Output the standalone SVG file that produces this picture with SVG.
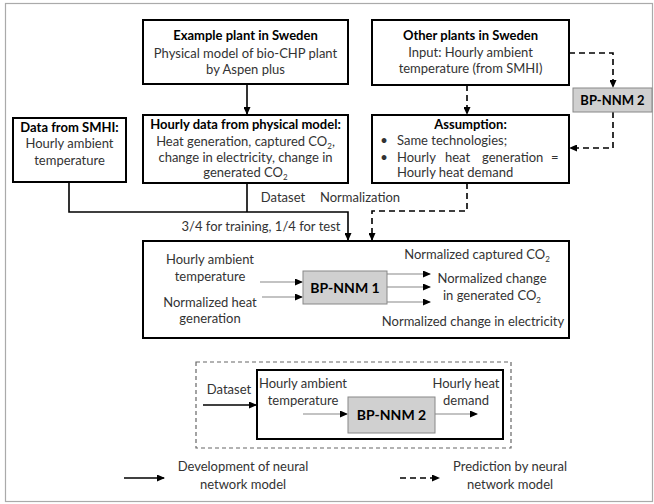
<svg xmlns="http://www.w3.org/2000/svg" width="654" height="504" viewBox="0 0 654 504">
<defs>
<marker id="ah" markerWidth="8" markerHeight="7" refX="7" refY="3.5" orient="auto" markerUnits="userSpaceOnUse">
<path d="M0,0 L8,3.5 L0,7 Z" fill="#000"/>
</marker>
<style>
text{font-family:Lato,"Liberation Sans",sans-serif;font-size:13px;fill:#333;text-anchor:middle}
.b{font-weight:bold;fill:#000}
.st{text-anchor:start}
.box{fill:#fff;stroke:#000;stroke-width:2}
.gbox{fill:#d0d0d0;stroke:#888;stroke-width:1}
.c{fill:none;stroke:#000;stroke-width:1.6}
.d{fill:none;stroke:#000;stroke-width:1.6;stroke-dasharray:6,4}
.g{fill:none;stroke:#888;stroke-width:1.2}
.sub{font-size:8px;baseline-shift:-3px}
</style>
</defs>
<rect x="5.5" y="3.5" width="647" height="498" fill="#fff" stroke="#aaa" stroke-width="1.2"/>

<g id="connectors">
<line class="c" x1="247" y1="84" x2="247" y2="114" marker-end="url(#ah)"/>
<line class="d" x1="467" y1="85" x2="467" y2="114" marker-end="url(#ah)"/>
<path class="d" d="M569,53 H613 V87" marker-end="url(#ah)"/>
<path class="d" d="M613,112 V148 H570" marker-end="url(#ah)"/>
<path class="c" d="M69,182 V212 H348 V240" marker-end="url(#ah)"/>
<line class="c" x1="247" y1="183" x2="247" y2="212"/>
<path class="d" d="M467,183 V211 H372 V240" marker-end="url(#ah)"/>
<text x="283" y="202">Dataset</text>
<text x="360" y="202">Normalization</text>
<text x="261" y="231">3/4 for training, 1/4 for test</text>
</g>

<g id="example-plant">
<rect class="box" x="143" y="20" width="205" height="64"/>
<text class="b" x="245.5" y="40">Example plant in Sweden</text>
<text x="245.5" y="58">Physical model of bio-CHP plant</text>
<text x="245.5" y="74">by Aspen plus</text>
</g>

<g id="other-plants">
<rect class="box" x="372" y="20" width="197" height="65"/>
<text class="b" x="470.5" y="40">Other plants in Sweden</text>
<text x="470.5" y="57">Input: Hourly ambient</text>
<text x="470.5" y="73">temperature (from SMHI)</text>
</g>

<g id="bp-nnm2-top">
<rect class="gbox" x="573" y="88" width="79" height="24"/>
<text class="b" x="612.5" y="105">BP-NNM 2</text>
</g>

<g id="smhi">
<rect class="box" x="13" y="118" width="113" height="64"/>
<text class="b" x="69.5" y="132">Data from SMHI:</text>
<text x="69.5" y="148">Hourly ambient</text>
<text x="69.5" y="165">temperature</text>
</g>

<g id="hourly-data">
<rect class="box" x="143" y="115" width="205" height="68"/>
<text class="b" x="245.5" y="129">Hourly data from physical model:</text>
<text x="245.5" y="146">Heat generation, captured CO<tspan class="sub">2</tspan>,</text>
<text x="245.5" y="162">change in electricity, change in</text>
<text x="245.5" y="177">generated CO<tspan class="sub">2</tspan></text>
</g>

<g id="assumption">
<rect class="box" x="372" y="115" width="197" height="68"/>
<text class="b" x="470.5" y="129">Assumption:</text>
<text x="384" y="145">•</text>
<text class="st" x="397" y="145">Same technologies;</text>
<text x="384" y="162">•</text>
<text class="st" x="397" y="162">Hourly</text>
<text class="st" x="445" y="162">heat</text>
<text class="st" x="482" y="162">generation</text>
<text class="st" x="551" y="162">=</text>
<text class="st" x="397" y="177">Hourly heat demand</text>
</g>

<g id="bp-nnm1-panel">
<rect class="box" x="143" y="241" width="426" height="97"/>
<text x="210" y="264">Hourly ambient</text>
<text x="210" y="281">temperature</text>
<text x="210" y="307">Normalized heat</text>
<text x="210" y="323">generation</text>
<line class="g" x1="260" y1="282" x2="302" y2="282" marker-end="url(#ah)"/>
<line class="g" x1="262" y1="297" x2="302" y2="297" marker-end="url(#ah)"/>
<rect class="gbox" x="303" y="271" width="84" height="33"/>
<text class="b" x="345" y="293" style="font-size:14px">BP-NNM 1</text>
<line class="g" x1="387" y1="274" x2="430" y2="274" marker-end="url(#ah)"/>
<line class="g" x1="387" y1="287" x2="430" y2="287" marker-end="url(#ah)"/>
<line class="g" x1="387" y1="302" x2="430" y2="302" marker-end="url(#ah)"/>
<text x="477" y="259">Normalized captured CO<tspan class="sub">2</tspan></text>
<text x="492" y="283">Normalized change</text>
<text x="492" y="300">in generated CO<tspan class="sub">2</tspan></text>
<text x="473" y="326">Normalized change in electricity</text>
</g>

<g id="bp-nnm2-panel">
<rect x="196" y="362" width="315" height="86" fill="none" stroke="#666" stroke-width="1.2" stroke-dasharray="4,3"/>
<text x="229" y="394">Dataset</text>
<line class="c" x1="203" y1="405" x2="256" y2="405" marker-end="url(#ah)"/>
<rect class="box" x="257" y="370" width="246" height="69"/>
<text x="303" y="388">Hourly ambient</text>
<text x="303" y="405">temperature</text>
<line class="g" x1="303" y1="414" x2="347" y2="414" marker-end="url(#ah)"/>
<rect class="gbox" x="348" y="397" width="87" height="36"/>
<text class="b" x="391.5" y="420" style="font-size:14px">BP-NNM 2</text>
<text x="466" y="388">Hourly heat</text>
<text x="466" y="405">demand</text>
<line class="g" x1="435" y1="414" x2="477" y2="414" marker-end="url(#ah)"/>
</g>

<g id="legend">
<line class="c" x1="124" y1="478" x2="164" y2="478" marker-end="url(#ah)"/>
<text x="243" y="471">Development of neural</text>
<text x="243" y="489">network model</text>
<line class="d" x1="400" y1="478" x2="439" y2="478" marker-end="url(#ah)"/>
<text x="510" y="471">Prediction by neural</text>
<text x="510" y="489">network model</text>
</g>
</svg>
